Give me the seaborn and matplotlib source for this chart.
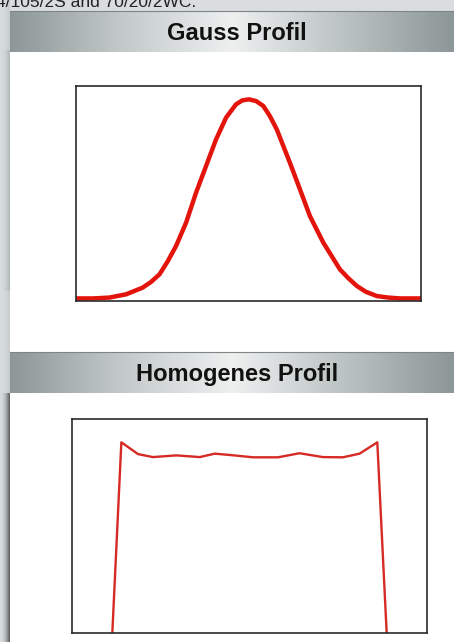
import numpy as np
import pandas as pd
import matplotlib
matplotlib.use("Agg")
import matplotlib.pyplot as plt
from matplotlib.colors import LinearSegmentedColormap
from matplotlib.patches import Rectangle
import seaborn as sns

W, H = 454, 642

# values (x: 0-100 across the box, y: 0-100 up the box)
gauss_x = [0, 5, 9.7, 14.5, 19.3, 21.7, 24.2, 26.6, 29, 31.9, 34.8, 37.7, 40.6,
           43.5, 46.4, 48.2, 50.1, 52.2, 54.3, 56.2, 58.2, 62.0, 64.9, 67.8,
           71.7, 76.5, 79, 81.4, 84, 87.2, 90.5, 93.9, 100]
gauss_y = [1.2, 1.2, 1.6, 3.1, 6.2, 8.8, 12.4, 18.5, 25.6, 36.4, 50.4, 62.8,
           75.2, 85.3, 91.5, 93.3, 93.8, 93.0, 90.7, 86.0, 79.8, 64.3, 52.0,
           39.5, 27.1, 14.7, 10.5, 7.0, 4.3, 2.3, 1.6, 1.2, 1.2]

homog_x = [11.3, 13.9, 18.6, 22.8, 29.4, 36.0, 40.2, 44.4, 51.0, 58.0, 64.1,
           70.7, 76.3, 81.0, 86.0, 88.7]
homog_y = [-2, 89.1, 83.6, 82.2, 83.0, 82.2, 83.8, 83.2, 82.1, 82.1, 84.0,
           82.2, 82.1, 83.8, 89.1, -2]

titles = ["Gauss Profil", "Homogenes Profil"]
caption = "4/105/2S and 70/20/2WC."

sns.set_style("white")
plt.rcParams['font.family'] = ['Liberation Sans', 'DejaVu Sans']

fig = plt.figure(figsize=(W / 100, H / 100), dpi=100)
fig.patch.set_facecolor("white")

# background: gray page margin, gradient header bands
bg = fig.add_axes([0, 0, 1, 1])
bg.set_xlim(0, W)
bg.set_ylim(H, 0)
bg.axis("off")
bg.add_patch(Rectangle((0, 0), W, 11, color="#d9dde0", zorder=0))

strip = np.zeros((H, 10, 3))
light = np.array([0.84, 0.86, 0.87])
dark_up = np.array([0.70, 0.72, 0.73])
dark_lo = np.array([0.38, 0.39, 0.39])
for r in range(H):
    dk = dark_up if r < 393 else dark_lo
    if r < 50 or 290 < r < 393:
        dk = light * 0.93
    for c in range(10):
        t = (c / 9.0) ** 2
        strip[r, c] = light * (1 - t) + dk * t
bg.imshow(strip, extent=(0, 10, H, 0), aspect="auto", zorder=0)

band_cmap = LinearSegmentedColormap.from_list(
    "band", [(0, "#8d9797"), (0.25, "#c3c9c9"), (0.5, "#eef0f0"),
             (0.75, "#bcc3c3"), (1, "#8d9797")])
grad = np.linspace(0, 1, 256).reshape(1, -1)
for (top, bot), title in zip([(11, 52), (352, 393)], titles):
    bg.imshow(grad, cmap=band_cmap, extent=(10, W, bot, top), aspect="auto", zorder=1)
    bg.plot([10, W], [top, top], color="#7d8585", lw=0.8, zorder=2)
    bg.text(237, (top + bot) / 2 + 2, title, ha="center", va="center",
            fontsize=17, fontweight="bold", color="#111111", zorder=3)

bg.text(-4, 7, caption, fontsize=12.5, color="#222222", va="baseline", zorder=3)

# the two profile boxes
boxes = [(76, 421, 86, 301), (72, 427, 419, 633)]
data = [pd.DataFrame({"x": gauss_x, "y": gauss_y}),
        pd.DataFrame({"x": homog_x, "y": homog_y})]
styles = [dict(color="#e3140c", linewidth=3.2), dict(color="#d62a24", linewidth=1.7)]

for (l, r, t, b), df, st in zip(boxes, data, styles):
    ax = fig.add_axes([l / W, (H - b) / H, (r - l) / W, (b - t) / H])
    sns.lineplot(data=df, x="x", y="y", ax=ax, sort=False, estimator=None,
                 solid_joinstyle="round", solid_capstyle="round", **st)
    ax.set_xlim(0, 100)
    ax.set_ylim(0, 100)
    ax.set_xticks([])
    ax.set_yticks([])
    ax.set_xlabel("")
    ax.set_ylabel("")
    ax.set_facecolor("white")
    for sp in ax.spines.values():
        sp.set_visible(True)
        sp.set_color("#2a2a2a")
        sp.set_linewidth(1.2)

fig.savefig("out.png", dpi=100)
